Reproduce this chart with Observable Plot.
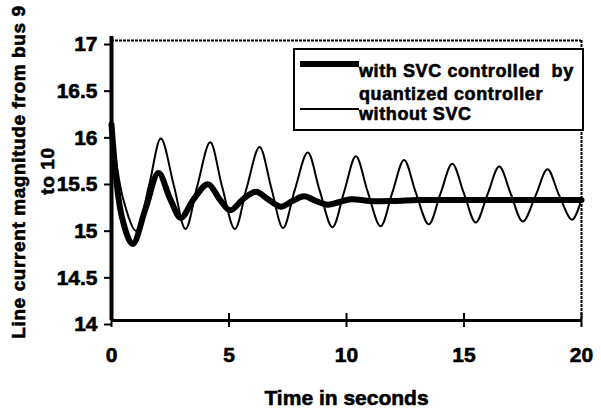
<!DOCTYPE html>
<html><head><meta charset="utf-8">
<script src="https://cdn.jsdelivr.net/npm/d3@7"></script>
<script src="https://cdn.jsdelivr.net/npm/@observablehq/plot@0.6"></script>
<style>
html,body{margin:0;padding:0;background:#fff;}
#wrap{position:relative;width:601px;height:408px;overflow:hidden;}
#wrap svg text{font-family:"Liberation Sans",Arial,sans-serif;font-weight:bold;stroke:#000;stroke-width:0.6px;}
.legend{position:absolute;left:293px;top:48px;width:291px;height:83px;border:2px solid #000;box-sizing:border-box;background:#fff;overflow:hidden;font-family:"Liberation Sans",Arial,sans-serif;font-weight:bold;font-size:18px;letter-spacing:0.6px;line-height:1;color:#000;-webkit-text-stroke:0.6px #000;}
.legend .sw{position:absolute;background:#000;}
.legend .tx{position:absolute;white-space:pre;}
</style></head><body>
<div id="wrap"></div>
<script>
// without SVC (thin line)
const timeWithout = [0, 0.5, 1.05, 1.6, 2.1, 2.65, 3.15, 3.65, 4.2, 4.7, 5.25, 5.75, 6.3, 6.8, 7.3, 7.8, 8.35, 8.85, 9.4, 9.9, 10.4, 10.9, 11.45, 11.95, 12.45, 12.95, 13.5, 14.0, 14.5, 15.0, 15.5, 16.0, 16.5, 17.0, 17.5, 18.05, 18.55, 19.05, 19.6, 20];
const valWithout  = [16.1, 15.3, 14.96, 15.45, 15.95, 15.45, 14.98, 15.44, 15.91, 15.44, 14.98, 15.42, 15.86, 15.42, 14.99, 15.4, 15.8, 15.4, 15.0, 15.38, 15.76, 15.38, 15.01, 15.37, 15.72, 15.37, 15.03, 15.36, 15.68, 15.36, 15.05, 15.35, 15.65, 15.35, 15.06, 15.34, 15.62, 15.34, 15.08, 15.3];
// with SVC controlled by quantized controller (thick line)
const timeWith = [0, 0.45, 0.9, 1.45, 2.0, 2.5, 2.95, 3.5, 4.1, 4.6, 5.05, 5.6, 6.15, 6.65, 7.2, 7.7, 8.2, 8.7, 9.2, 9.7, 10.2, 11, 12, 13, 14, 15, 16, 17, 18, 19, 20];
const valWith  = [16.1, 15.1, 14.82, 15.2, 15.58, 15.3, 15.1, 15.3, 15.46, 15.3, 15.18, 15.3, 15.38, 15.3, 15.22, 15.28, 15.33, 15.28, 15.24, 15.27, 15.3, 15.28, 15.28, 15.29, 15.29, 15.29, 15.29, 15.29, 15.29, 15.29, 15.29];

const xTicks = [0, 5, 10, 15, 20];
const yTicks = [14, 14.5, 15, 15.5, 16, 16.5, 17];
const xTitle = "Time in seconds";
const yTitle1 = "Line current magnitude from bus 9";
const yTitle2 = "to 10";
const legendLabels = ["with SVC controlled  by", "quantized controller", "without SVC"];

const thin = timeWithout.map((t, i) => ({t, v: valWithout[i]}));
const thick = timeWith.map((t, i) => ({t, v: valWith[i]}));

const chart = Plot.plot({
  width: 601, height: 408,
  marginLeft: 111, marginRight: 20, marginTop: 40, marginBottom: 88,
  x: {domain: [0, 20]},
  y: {domain: [14, 17]},
  style: {background: "#fff", color: "#000", fontSize: "21px"},
  marks: [
    Plot.ruleY([17], {stroke: "#000", strokeWidth: 2, strokeDasharray: "3,1"}),
    Plot.ruleX([20], {stroke: "#000", strokeWidth: 2, strokeDasharray: "3,1"}),
    Plot.line(thin, {x: "t", y: "v", stroke: "#000", strokeWidth: 2, curve: "catmull-rom"}),
    Plot.line(thick, {x: "t", y: "v", stroke: "#000", strokeWidth: 6, curve: "catmull-rom"}),
    Plot.ruleX([0], {stroke: "#000", strokeWidth: 4, insetTop: -4}),
    Plot.ruleY([14], {stroke: "#000", strokeWidth: 3}),
    Plot.ruleX(xTicks, {x: d => d, y1: 14, y2: 14, insetTop: -7, insetBottom: -7, stroke: "#000", strokeWidth: 2}),
    Plot.axisY({ticks: yTicks, tickSize: 7, tickPadding: 7, tickFormat: d => String(d), label: null, dy: 4, strokeWidth: 2}),
    Plot.axisX({ticks: xTicks, tickSize: 0, tickPadding: 27, tickFormat: d => String(d), label: null}),
    Plot.text([xTitle], {frameAnchor: "bottom", dy: 84, fontSize: 21, fill: "#000"})
  ]
});
const wrap = document.getElementById("wrap");
wrap.appendChild(chart);

// rotated y-axis title (two lines)
const svg = d3.select(chart);
[[yTitle1, 18, 172], [yTitle2, 47, 171]].forEach(([s, x, y]) => {
  svg.append("text")
    .attr("transform", `translate(${x},${y}) rotate(-90)`)
    .attr("text-anchor", "middle")
    .attr("dominant-baseline", "central")
    .attr("font-size", 19)
    .attr("letter-spacing", "0.6px")
    .attr("fill", "#000")
    .text(s);
});

const leg = document.createElement("div");
leg.className = "legend";
leg.innerHTML = `
  <div class="sw" style="left:5px;top:11px;width:59px;height:6px;"></div>
  <div class="tx" style="left:64px;top:12px;">${legendLabels[0]}</div>
  <div class="tx" style="left:64px;top:35px;">${legendLabels[1]}</div>
  <div class="sw" style="left:5px;top:58px;width:59px;height:2px;"></div>
  <div class="tx" style="left:64px;top:55px;">${legendLabels[2]}</div>`;
wrap.appendChild(leg);
</script>
</body></html>
